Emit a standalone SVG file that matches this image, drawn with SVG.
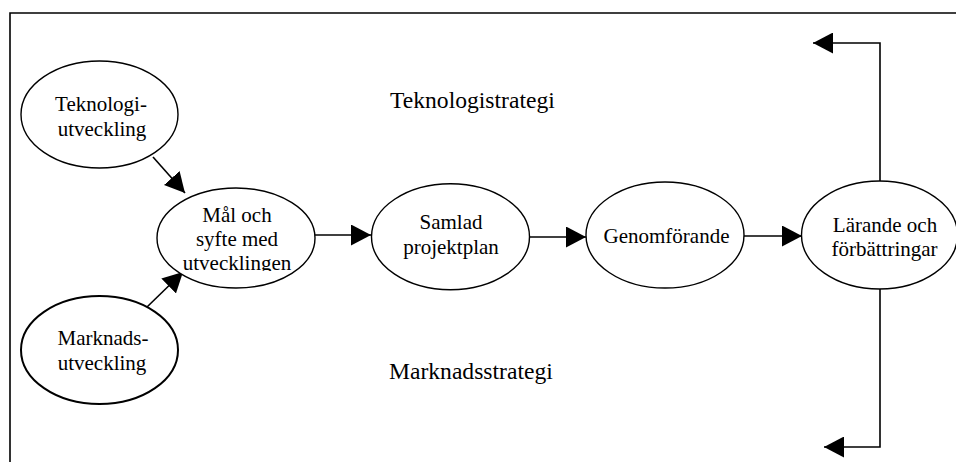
<svg xmlns="http://www.w3.org/2000/svg" width="956" height="462" viewBox="0 0 956 462">
<style>
.node{fill:#fff;stroke:#000;stroke-width:1.4}
.nt{font-family:"Liberation Serif","Times New Roman",serif;font-size:21px;fill:#000;text-anchor:middle}
.lbl{font-family:"Liberation Serif","Times New Roman",serif;font-size:23.6px;fill:#000}
.con{fill:none;stroke:#000;stroke-width:1.6}
.frame{fill:none;stroke:#000;stroke-width:1.6}
</style>
<defs>
<marker id="ah" viewBox="0 0 20 21" refX="20" refY="10.5" markerWidth="20" markerHeight="21" orient="auto" markerUnits="userSpaceOnUse">
<path d="M0,0 L20,10.5 L0,21 Z" fill="#000"/>
</marker>
<clipPath id="clipMal"><rect x="150" y="180" width="180" height="91"/></clipPath>
</defs>
<rect x="0" y="0" width="956" height="462" fill="#fff"/>
<path class="frame" d="M10,462 L10,13 L956,13"/>
<g id="labels">
<text class="lbl" x="390" y="108">Teknologistrategi</text>
<text class="lbl" x="389" y="379">Marknadsstrategi</text>
</g>
<g id="connectors">
<line class="con" x1="153" y1="157" x2="185" y2="193" marker-end="url(#ah)"/>
<line class="con" x1="147" y1="307" x2="183" y2="272" marker-end="url(#ah)"/>
<line class="con" x1="315" y1="235" x2="371" y2="235" marker-end="url(#ah)"/>
<line class="con" x1="529" y1="237" x2="586" y2="237" marker-end="url(#ah)"/>
<line class="con" x1="744" y1="236" x2="802" y2="236" marker-end="url(#ah)"/>
<polyline class="con" points="880,181 880,43 813,43" marker-end="url(#ah)"/>
<polyline class="con" points="880,289 880,447 824,447" marker-end="url(#ah)"/>
</g>
<g id="teknologiutveckling">
<ellipse class="node" cx="99.5" cy="114.5" rx="78.5" ry="53.5"/>
<text class="nt" x="101" y="111">Teknologi-</text>
<text class="nt" x="102" y="136">utveckling</text>
</g>
<g id="marknadsutveckling">
<ellipse class="node" cx="99.5" cy="350" rx="78.5" ry="54" style="stroke-width:2"/>
<text class="nt" x="103" y="345">Marknads-</text>
<text class="nt" x="102" y="370">utveckling</text>
</g>
<g id="malochsyfte">
<ellipse class="node" cx="236" cy="238" rx="79" ry="50"/>
<g clip-path="url(#clipMal)">
<text class="nt" x="237" y="222">Mål och</text>
<text class="nt" x="237" y="246">syfte med</text>
<text class="nt" x="237" y="270">utvecklingen</text>
</g>
</g>
<g id="samladprojektplan">
<ellipse class="node" cx="450.5" cy="236.7" rx="79" ry="53"/>
<text class="nt" x="451" y="229">Samlad</text>
<text class="nt" x="451" y="254">projektplan</text>
</g>
<g id="genomforande">
<ellipse class="node" cx="665" cy="235" rx="79" ry="53"/>
<text class="nt" x="666.5" y="243">Genomförande</text>
</g>
<g id="larande">
<ellipse class="node" cx="879.5" cy="235" rx="78" ry="54"/>
<text class="nt" x="885" y="232">Lärande och</text>
<text class="nt" x="884.5" y="256">förbättringar</text>
</g>
</svg>
